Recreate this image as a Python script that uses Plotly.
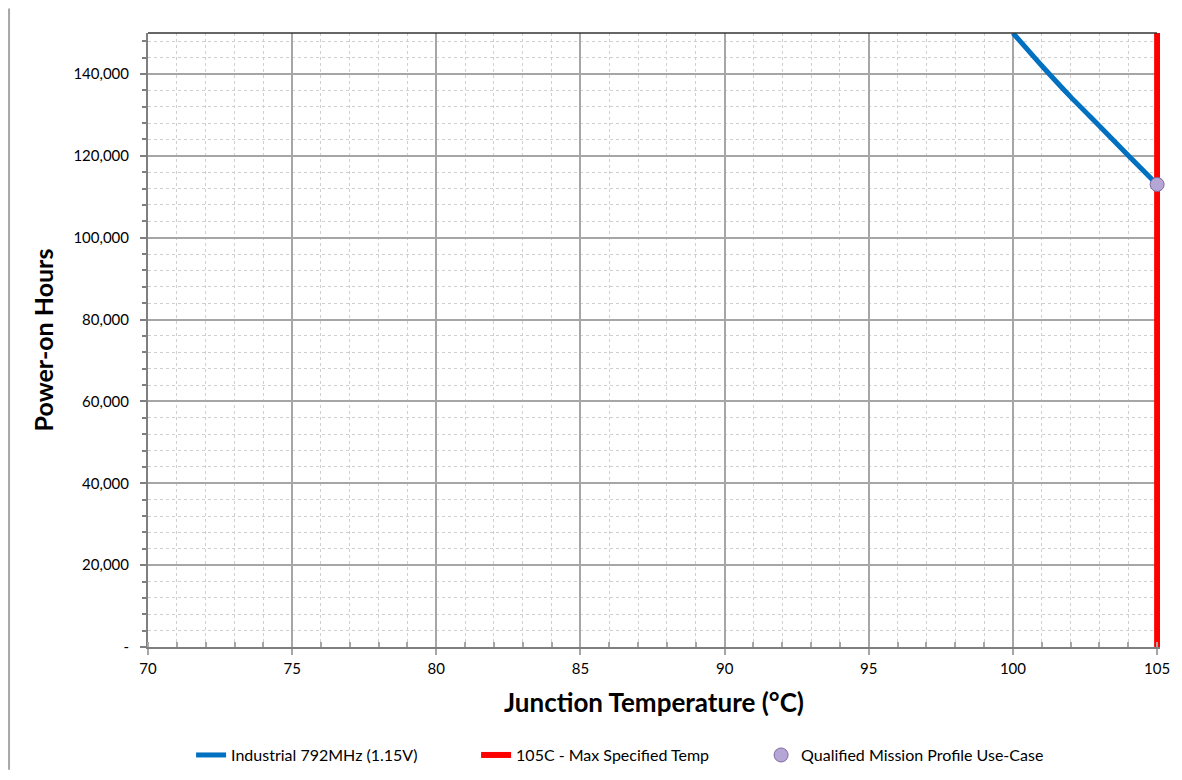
import plotly.graph_objects as go

# Data
temps = [100, 101, 102, 103, 104, 105]
hours = [150000, 142000, 134400, 127300, 120100, 113000]
max_temp_x = [105, 105]
max_temp_y = [0, 150000]
mission_x = [105]
mission_y = [113000]
y_tickvals = [0, 20000, 40000, 60000, 80000, 100000, 120000, 140000]
y_ticktext = ["-", "20,000", "40,000", "60,000", "80,000", "100,000", "120,000", "140,000"]
x_tickvals = [70, 75, 80, 85, 90, 95, 100, 105]

FONT = "Lato"
W, H = 1164, 762
L, T = 140, 25
PLOT_W = 1012
PLOT_H = 614

fig = go.Figure()
fig.add_trace(go.Scatter(x=temps, y=hours, mode="lines", name="Industrial 792MHz (1.15V)",
                         line=dict(color="#0070C0", width=5, shape="spline", smoothing=0.6)))
fig.add_trace(go.Scatter(x=max_temp_x, y=max_temp_y, mode="lines", name="105C - Max Specified Temp",
                         line=dict(color="#FF0000", width=6)))
fig.add_trace(go.Scatter(x=mission_x, y=mission_y, mode="markers", name="Qualified Mission Profile Use-Case",
                         marker=dict(size=14, color="#B4A7D6", line=dict(color="#7F6A9F", width=1)),
                         cliponaxis=False))

fig.update_layout(
    width=W, height=H,
    margin=dict(l=L, r=W - L - PLOT_W, t=T, b=H - T - PLOT_H, autoexpand=False),
    paper_bgcolor="white", plot_bgcolor="white",
    font=dict(family=FONT, size=15, color="black"),
    showlegend=True,
    legend=dict(orientation="h", x=0.465, xanchor="center", y=-0.176, yanchor="middle",
                font=dict(size=16), itemwidth=30, tracegroupgap=0,
                entrywidth=240, entrywidthmode="pixels"),
    xaxis=dict(
        range=[70, 105.1], tickvals=x_tickvals, automargin=False,
        showline=True, linecolor="#7F7F7F", linewidth=2,
        showgrid=True, gridcolor="#A6A6A6", gridwidth=1.5,
        ticks="outside", ticklen=6, tickcolor="#A6A6A6", tickwidth=1.5,
        tickfont=dict(size=15), ticklabelstandoff=1,
        minor=dict(dtick=1, showgrid=True, gridcolor="#CFCFCF", griddash="dot", gridwidth=1,
                   ticks="inside", ticklen=5, tickcolor="#A6A6A6"),
        title=dict(text="<b>Junction Temperature (°C)</b>", font=dict(size=26), standoff=18),
        zeroline=False,
    ),
    yaxis=dict(
        range=[0, 150000], tickvals=y_tickvals, ticktext=y_ticktext, automargin=False,
        showline=True, linecolor="#7F7F7F", linewidth=2,
        showgrid=True, gridcolor="#A6A6A6", gridwidth=1.5,
        ticks="outside", ticklen=6, tickcolor="#7F7F7F", tickwidth=1.5,
        tickfont=dict(size=15), ticklabelstandoff=8,
        minor=dict(dtick=4000, tick0=0, showgrid=True, gridcolor="#CFCFCF", griddash="dot", gridwidth=1,
                   ticks="outside", ticklen=4, tickcolor="#7F7F7F"),
        title=dict(text="<b>Power-on Hours</b>", font=dict(size=25), standoff=13),
        zeroline=False,
    ),
    shapes=[
        dict(type="line", xref="paper", yref="paper", x0=0, x1=0.997, y0=1, y1=1,
             line=dict(color="#333333", width=1.5)),
        dict(type="line", xref="paper", yref="paper", x0=-0.1373, x1=-0.1373, y0=-0.2, y1=1.04,
             line=dict(color="#A6A6A6", width=2)),
    ],
)

fig.write_html("out.html")
